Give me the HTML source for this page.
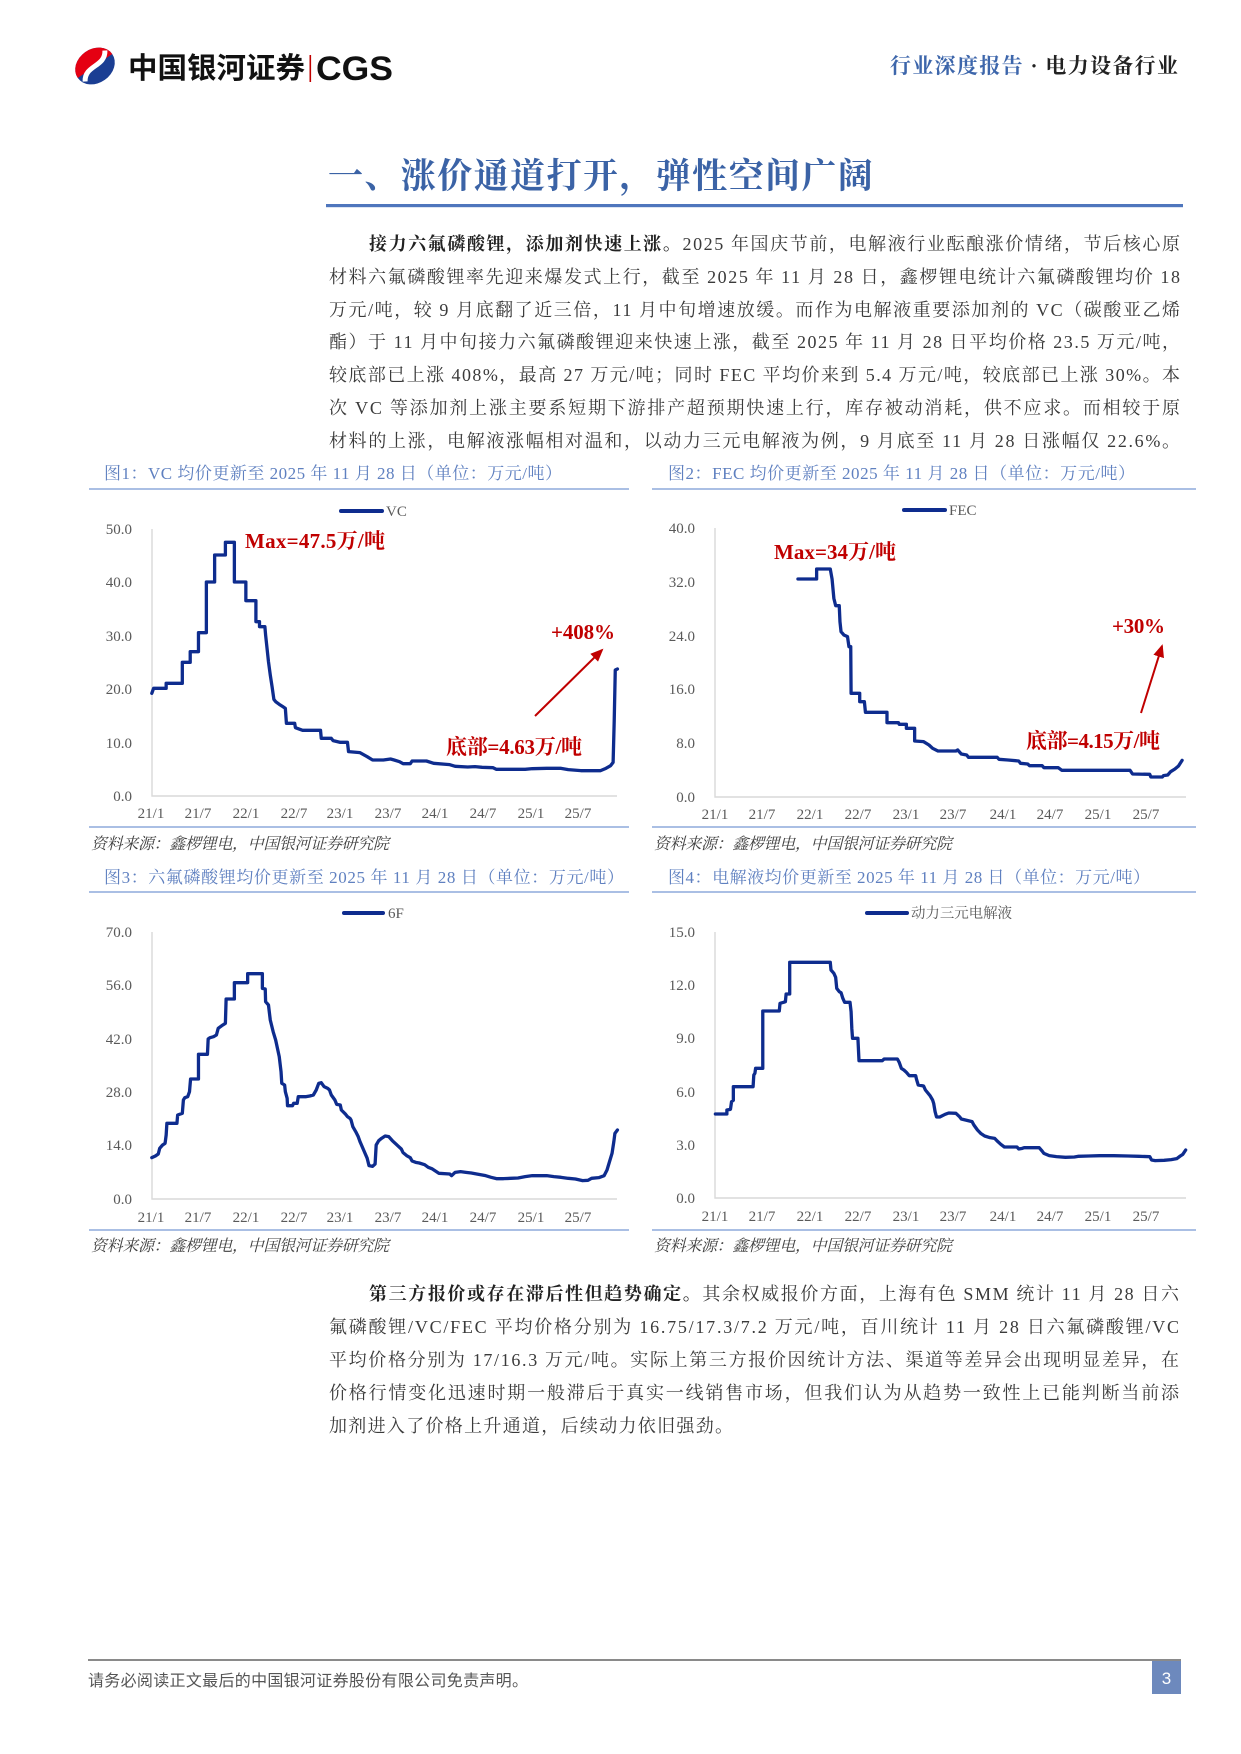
<!DOCTYPE html>
<html><head><meta charset="utf-8">
<style>
html,body{margin:0;padding:0;background:#fff;}
svg{display:block;}
.serif{font-family:"Liberation Serif","Noto Serif CJK SC",serif;}
.sans{font-family:"Liberation Sans","Noto Sans CJK SC",sans-serif;}
.body{font-size:18px;fill:#3a3a3a;}
.b{font-weight:bold;fill:#222;}
.ft{font-size:17px;fill:#5f80c0;}
.src{font-size:16px;fill:#404040;font-style:italic;}
.ax{font-size:15px;fill:#595959;}
.ann{font-size:21px;fill:#c00000;font-weight:bold;}
.ser{fill:none;stroke:#0e2c8e;stroke-width:3.3;stroke-linejoin:round;stroke-linecap:round;}
</style></head>
<body>
<svg width="1241" height="1754" viewBox="0 0 1241 1754" xmlns="http://www.w3.org/2000/svg">
<defs>
<marker id="ah" markerWidth="13" markerHeight="11" refX="11" refY="5.5" orient="auto" markerUnits="userSpaceOnUse">
<path d="M0,0 L13,5.5 L0,11 z" fill="#c00000"/>
</marker>
</defs>

<!-- Header logo -->
<g transform="translate(95,66) rotate(-35)">
<ellipse rx="21" ry="17" fill="#1b3e93"/>
<path d="M-21,0 A21,17 0 0 1 21,0 Z" fill="#e50012"/>
<path d="M-17,7 C-8,-7 8,7 17,-7" stroke="#fff" stroke-width="5" fill="none"/>
</g>
<text x="128" y="78" class="sans" style="font-size:29px;font-weight:bold;fill:#111" textLength="177" lengthAdjust="spacingAndGlyphs">中国银河证券</text>
<rect x="309.5" y="55" width="1.6" height="27" fill="#c00000"/>
<text x="316" y="80" style="font-family:'Liberation Sans',sans-serif;font-size:34px;font-weight:bold;fill:#111" textLength="77" lengthAdjust="spacingAndGlyphs">CGS</text>

<text x="890" y="73" class="serif" style="font-size:21px;font-weight:bold" textLength="288" lengthAdjust="spacing"><tspan fill="#3d66ab">行业深度报告</tspan><tspan fill="#222"> · 电力设备行业</tspan></text>

<!-- Title -->
<text x="328" y="188" class="serif" style="font-size:35px;font-weight:bold;fill:#3b63a6" textLength="545" lengthAdjust="spacing">一、涨价通道打开，弹性空间广阔</text>
<rect x="326" y="204" width="857" height="3.2" fill="#4f76bd"/>

<!-- Paragraph 1 -->
<g class="serif body">
<text x="369" y="250" textLength="811" lengthAdjust="spacing"><tspan class="b">接力六氟磷酸锂，添加剂快速上涨。</tspan>2025 年国庆节前，电解液行业酝酿涨价情绪，节后核心原</text>
<text x="329" y="283" textLength="851" lengthAdjust="spacing">材料六氟磷酸锂率先迎来爆发式上行，截至 2025 年 11 月 28 日，鑫椤锂电统计六氟磷酸锂均价 18</text>
<text x="329" y="316" textLength="851" lengthAdjust="spacing">万元/吨，较 9 月底翻了近三倍，11 月中旬增速放缓。而作为电解液重要添加剂的 VC（碳酸亚乙烯</text>
<text x="329" y="348" textLength="851" lengthAdjust="spacing">酯）于 11 月中旬接力六氟磷酸锂迎来快速上涨，截至 2025 年 11 月 28 日平均价格 23.5 万元/吨，</text>
<text x="329" y="381" textLength="851" lengthAdjust="spacing">较底部已上涨 408%，最高 27 万元/吨；同时 FEC 平均价来到 5.4 万元/吨，较底部已上涨 30%。本</text>
<text x="329" y="414" textLength="851" lengthAdjust="spacing">次 VC 等添加剂上涨主要系短期下游排产超预期快速上行，库存被动消耗，供不应求。而相较于原</text>
<text x="329" y="447" textLength="851" lengthAdjust="spacing">材料的上涨，电解液涨幅相对温和，以动力三元电解液为例，9 月底至 11 月 28 日涨幅仅 22.6%。</text>
</g>

<!-- Figure titles & rules -->
<g class="serif ft">
<text x="104" y="479" textLength="458" lengthAdjust="spacing">图1：VC 均价更新至 2025 年 11 月 28 日（单位：万元/吨）</text>
<text x="668" y="479" textLength="467" lengthAdjust="spacing">图2：FEC 均价更新至 2025 年 11 月 28 日（单位：万元/吨）</text>
<text x="104" y="883" textLength="520" lengthAdjust="spacing">图3：六氟磷酸锂均价更新至 2025 年 11 月 28 日（单位：万元/吨）</text>
<text x="668" y="883" textLength="482" lengthAdjust="spacing">图4：电解液均价更新至 2025 年 11 月 28 日（单位：万元/吨）</text>
</g>
<g stroke="#8eaadb" stroke-width="1.6">
<line x1="89" y1="489" x2="629" y2="489"/>
<line x1="652" y1="489" x2="1196" y2="489"/>
<line x1="89" y1="892" x2="629" y2="892"/>
<line x1="652" y1="892" x2="1196" y2="892"/>
<line x1="89" y1="827" x2="629" y2="827"/>
<line x1="652" y1="827" x2="1196" y2="827"/>
<line x1="89" y1="1230" x2="629" y2="1230"/>
<line x1="652" y1="1230" x2="1196" y2="1230"/>
</g>
<g class="serif src">
<text x="91" y="849" textLength="298" lengthAdjust="spacing">资料来源：鑫椤锂电，中国银河证券研究院</text>
<text x="654" y="849" textLength="298" lengthAdjust="spacing">资料来源：鑫椤锂电，中国银河证券研究院</text>
<text x="91" y="1251" textLength="298" lengthAdjust="spacing">资料来源：鑫椤锂电，中国银河证券研究院</text>
<text x="654" y="1251" textLength="298" lengthAdjust="spacing">资料来源：鑫椤锂电，中国银河证券研究院</text>
</g>

<!-- Axes -->
<g stroke="#d9d9d9" stroke-width="1.4" fill="none">
<polyline points="152,529 152,796 617,796"/>
<polyline points="715,528 715,797 1186,797"/>
<polyline points="152,932 152,1199 617,1199"/>
<polyline points="715,932 715,1198 1186,1198"/>
</g>

<!-- Y labels -->
<g class="serif ax" text-anchor="end">
<text x="132" y="534">50.0</text><text x="132" y="587">40.0</text><text x="132" y="641">30.0</text><text x="132" y="694">20.0</text><text x="132" y="748">10.0</text><text x="132" y="801">0.0</text>
<text x="695" y="533">40.0</text><text x="695" y="587">32.0</text><text x="695" y="641">24.0</text><text x="695" y="694">16.0</text><text x="695" y="748">8.0</text><text x="695" y="802">0.0</text>
<text x="132" y="937">70.0</text><text x="132" y="990">56.0</text><text x="132" y="1044">42.0</text><text x="132" y="1097">28.0</text><text x="132" y="1150">14.0</text><text x="132" y="1204">0.0</text>
<text x="695" y="937">15.0</text><text x="695" y="990">12.0</text><text x="695" y="1043">9.0</text><text x="695" y="1097">6.0</text><text x="695" y="1150">3.0</text><text x="695" y="1203">0.0</text>
</g>

<!-- X labels -->
<g class="serif ax" text-anchor="middle">
<text x="151" y="818">21/1</text><text x="198" y="818">21/7</text><text x="246" y="818">22/1</text><text x="294" y="818">22/7</text><text x="340" y="818">23/1</text><text x="388" y="818">23/7</text><text x="435" y="818">24/1</text><text x="483" y="818">24/7</text><text x="531" y="818">25/1</text><text x="578" y="818">25/7</text>
<text x="715" y="819">21/1</text><text x="762" y="819">21/7</text><text x="810" y="819">22/1</text><text x="858" y="819">22/7</text><text x="906" y="819">23/1</text><text x="953" y="819">23/7</text><text x="1003" y="819">24/1</text><text x="1050" y="819">24/7</text><text x="1098" y="819">25/1</text><text x="1146" y="819">25/7</text>
<text x="151" y="1222">21/1</text><text x="198" y="1222">21/7</text><text x="246" y="1222">22/1</text><text x="294" y="1222">22/7</text><text x="340" y="1222">23/1</text><text x="388" y="1222">23/7</text><text x="435" y="1222">24/1</text><text x="483" y="1222">24/7</text><text x="531" y="1222">25/1</text><text x="578" y="1222">25/7</text>
<text x="715" y="1221">21/1</text><text x="762" y="1221">21/7</text><text x="810" y="1221">22/1</text><text x="858" y="1221">22/7</text><text x="906" y="1221">23/1</text><text x="953" y="1221">23/7</text><text x="1003" y="1221">24/1</text><text x="1050" y="1221">24/7</text><text x="1098" y="1221">25/1</text><text x="1146" y="1221">25/7</text>
</g>

<!-- Legends -->
<g stroke="#0e2c8e" stroke-width="4" stroke-linecap="round">
<line x1="341" y1="511" x2="382" y2="511"/>
<line x1="904" y1="510" x2="945" y2="510"/>
<line x1="344" y1="913" x2="383" y2="913"/>
<line x1="867" y1="913" x2="907" y2="913"/>
</g>
<g class="serif ax">
<text x="386" y="516">VC</text>
<text x="949" y="515">FEC</text>
<text x="388" y="918">6F</text>
<text x="911" y="918" textLength="101" lengthAdjust="spacing" style="font-size:14.5px">动力三元电解液</text>
</g>

<!-- Series -->
<g transform="translate(80,455) scale(0.359,0.33333)">
<polyline class="ser" vector-effect="non-scaling-stroke" points="200,715 205,700 240,700 240,685 285,685 285,622 307,622 307,590 330,590 330,533 352,533 352,381 375,381 375,300 405,300 405,262 430,262 430,381 462,381 462,437 490,437 490,500 500,500 500,515 515,515 517,540 520,570 525,620 530,660 535,695 540,733 545,740 555,748 565,755 572,760 575,805 598,805 600,818 620,826 670,826 672,850 700,850 705,857 725,862 745,862 748,890 780,893 800,905 815,915 845,915 865,912 875,915 890,920 900,926 920,926 925,918 965,918 985,925 1030,929 1045,934 1080,936 1100,935 1120,937 1150,938 1160,943 1240,943 1260,941 1300,940 1340,940 1360,944 1395,947 1450,947 1465,940 1478,932 1485,922 1488,800 1491,645 1497,642"/>
</g>
<g transform="translate(640,455) scale(0.359,0.33333)">
<polyline class="ser" vector-effect="non-scaling-stroke" points="440,372 492,372 492,342 530,342 535,372 540,430 545,452 555,452 557,500 560,530 568,540 578,545 582,575 587,575 588,715 612,715 612,740 625,740 628,772 688,772 688,803 720,803 722,808 742,808 742,820 765,820 765,858 790,860 805,870 815,880 830,888 880,888 885,885 895,897 910,900 915,907 995,907 1000,913 1025,915 1055,918 1060,925 1080,927 1085,932 1120,932 1125,938 1165,938 1175,946 1365,946 1372,957 1420,958 1423,966 1455,966 1458,962 1470,960 1478,950 1490,942 1500,933 1510,916"/>
</g>
<g transform="translate(80,855) scale(0.359,0.33333)">
<polyline class="ser" vector-effect="non-scaling-stroke" points="200,908 210,903 218,897 222,880 230,870 237,865 240,840 242,805 270,805 272,780 285,775 288,735 292,728 300,725 305,710 308,672 330,672 330,598 355,598 357,552 362,548 372,545 380,540 385,520 395,512 405,505 407,432 430,432 430,383 467,383 467,356 508,356 508,400 516,402 517,440 525,450 530,495 538,530 545,555 555,605 560,650 562,685 570,690 572,710 577,730 578,752 592,752 595,745 605,745 608,725 630,725 640,723 650,720 658,705 665,685 672,683 680,695 690,700 695,705 700,720 710,735 715,748 725,750 728,765 740,778 745,785 752,790 755,795 760,815 768,830 775,845 780,860 790,885 800,910 805,932 815,934 822,927 825,870 832,857 840,850 850,843 860,845 870,857 885,872 895,882 900,893 910,902 920,908 925,918 935,922 945,924 960,929 970,937 980,941 990,948 1000,955 1030,957 1035,962 1045,952 1060,950 1075,952 1090,954 1105,957 1130,962 1145,967 1160,971 1180,971 1200,970 1220,969 1240,965 1260,962 1300,962 1320,965 1340,967 1360,970 1380,972 1400,977 1415,976 1425,970 1445,968 1460,962 1468,945 1475,920 1482,895 1487,860 1490,835 1497,825"/>
</g>
<g transform="translate(640,855) scale(0.359,0.33333)">
<polyline class="ser" vector-effect="non-scaling-stroke" points="210,777 242,777 242,765 252,763 255,740 260,736 260,695 315,695 317,660 320,655 322,640 342,640 342,468 388,468 390,445 400,442 405,440 407,417 417,417 417,322 530,322 532,345 540,355 545,367 548,400 555,410 560,413 565,430 570,442 585,442 588,470 590,520 592,550 607,550 610,617 675,617 680,612 717,612 722,622 728,640 735,645 742,652 750,662 768,662 770,672 775,690 790,693 795,705 808,722 815,735 818,745 822,770 826,786 835,786 850,778 860,774 880,775 890,785 895,792 925,800 930,810 940,825 950,836 960,843 975,848 988,850 995,858 1005,868 1015,876 1050,876 1055,882 1065,880 1070,878 1112,878 1120,888 1125,895 1140,902 1160,905 1185,907 1210,906 1220,904 1250,903 1280,902 1320,902 1360,903 1390,904 1420,905 1425,915 1435,917 1460,916 1480,914 1495,911 1505,903 1512,898 1520,885"/>
</g>

<!-- Annotations -->
<g class="serif ann">
<text x="245" y="548" textLength="140" lengthAdjust="spacing">Max=47.5万/吨</text>
<text x="551" y="639" textLength="64" lengthAdjust="spacing">+408%</text>
<text x="446" y="754" textLength="136" lengthAdjust="spacing">底部=4.63万/吨</text>
<text x="774" y="559" textLength="122" lengthAdjust="spacing">Max=34万/吨</text>
<text x="1112" y="633" textLength="53" lengthAdjust="spacing">+30%</text>
<text x="1026" y="748" textLength="134" lengthAdjust="spacing">底部=4.15万/吨</text>
</g>
<line x1="535" y1="716" x2="602" y2="650" stroke="#c00000" stroke-width="2" marker-end="url(#ah)"/>
<line x1="1141" y1="713" x2="1162" y2="646" stroke="#c00000" stroke-width="2" marker-end="url(#ah)"/>

<!-- Paragraph 2 -->
<g class="serif body">
<text x="369" y="1300" textLength="810" lengthAdjust="spacing"><tspan class="b">第三方报价或存在滞后性但趋势确定。</tspan>其余权威报价方面，上海有色 SMM 统计 11 月 28 日六</text>
<text x="329" y="1333" textLength="850" lengthAdjust="spacing">氟磷酸锂/VC/FEC 平均价格分别为 16.75/17.3/7.2 万元/吨，百川统计 11 月 28 日六氟磷酸锂/VC</text>
<text x="329" y="1366" textLength="850" lengthAdjust="spacing">平均价格分别为 17/16.3 万元/吨。实际上第三方报价因统计方法、渠道等差异会出现明显差异，在</text>
<text x="329" y="1399" textLength="850" lengthAdjust="spacing">价格行情变化迅速时期一般滞后于真实一线销售市场，但我们认为从趋势一致性上已能判断当前添</text>
<text x="329" y="1432" textLength="404" lengthAdjust="spacing">加剂进入了价格上升通道，后续动力依旧强劲。</text>
</g>

<!-- Footer -->
<line x1="88" y1="1660" x2="1181" y2="1660" stroke="#444" stroke-width="1.3"/>
<text x="88" y="1686" class="sans" style="font-size:16px;fill:#555" textLength="440" lengthAdjust="spacing">请务必阅读正文最后的中国银河证券股份有限公司免责声明。</text>
<rect x="1152" y="1661" width="29" height="33" fill="#6d89bd"/>
<text x="1166.5" y="1684" text-anchor="middle" style="font-family:'Liberation Sans',sans-serif;font-size:17px;fill:#fff">3</text>
</svg>
</body></html>
